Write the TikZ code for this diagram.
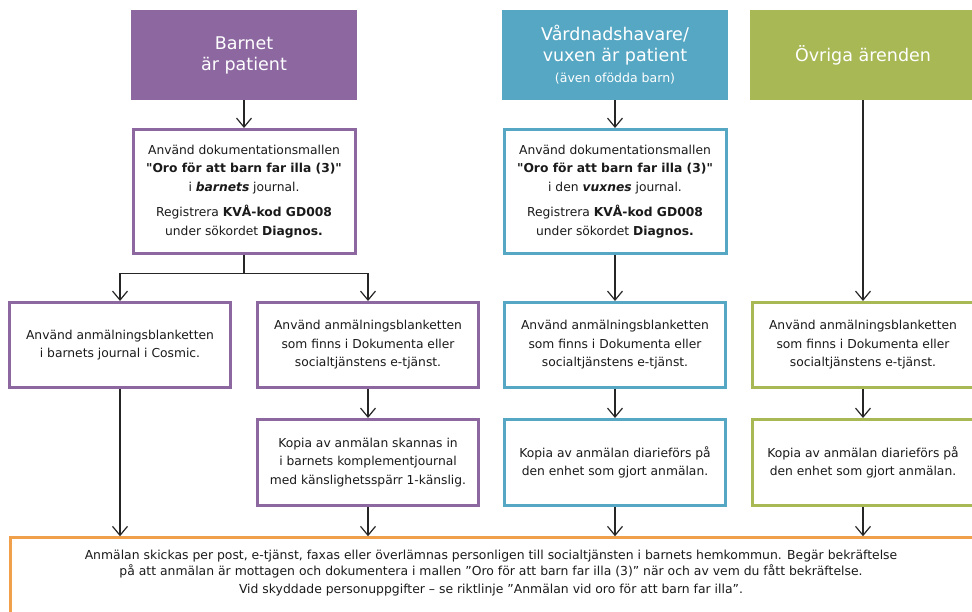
\documentclass[tikz,border=0pt]{standalone}
\usepackage{fontspec}
\setmainfont{DejaVu Sans}
\usetikzlibrary{arrows.meta, positioning}

\definecolor{lila}{HTML}{8C67A0}
\definecolor{bla}{HTML}{55A7C3}
\definecolor{gron}{HTML}{A7B855}
\definecolor{anmorange}{HTML}{F0A04B}
\definecolor{textgra}{HTML}{1A1A1A}

\begin{document}
\begin{tikzpicture}[x=1pt, y=-1pt,
		header/.style={fill=#1, text=white, minimum width=226, minimum height=90, inner sep=0pt, align=center, font=\fontsize{17.5}{21}\selectfont},
		ruta/.style={draw=#1, line width=3pt, fill=white, text=textgra, minimum width=221, minimum height=85, inner sep=0pt, align=center, font=\fontsize{12.3}{18.5}\selectfont},
		flow/.style={draw=black!85, line width=1.2pt, -{Straight Barb[length=9pt, width=15pt]}},
		link/.style={draw=black!85, line width=1.2pt}]
		\useasboundingbox (0,0) rectangle (972,612);
		\clip (0,0) rectangle (972,612);
		
		% Headers
		\node[header=lila] (hdrA) at (244,55) {Barnet\\är patient};
		\node[header=bla] (hdrB) at (615,55) {Vårdnadshavare/\\vuxen är patient\\{\fontsize{12.5}{15}\selectfont (även ofödda barn)}};
		\node[header=gron] (hdrC) at (863,55) {Övriga ärenden};
		
		% Documentation
		\node[ruta=lila, minimum width=222, minimum height=124] (docA) at (244,191.5) {Använd dokumentationsmallen\\\textbf{\textquotedbl Oro för att barn far illa (3)\textquotedbl}\\i \textbf{\textit{barnets}} journal.\\[7pt]Registrera \textbf{KVÅ-kod GD008}\\under sökordet \textbf{Diagnos.}};
		\node[ruta=bla, minimum width=222, minimum height=124] (docB) at (615,191.5) {Använd dokumentationsmallen\\\textbf{\textquotedbl Oro för att barn far illa (3)\textquotedbl}\\i den \textbf{\textit{vuxnes}} journal.\\[7pt]Registrera \textbf{KVÅ-kod GD008}\\under sökordet \textbf{Diagnos.}};
		
		% Forms
		\node[ruta=lila] (cosmic) at (120,345) {Använd anmälningsblanketten\\i barnets journal i Cosmic.};
		\node[ruta=lila] (formA) at (368,345) {Använd anmälningsblanketten\\som finns i Dokumenta eller\\socialtjänstens e-tjänst.};
		\node[ruta=bla] (formB) at (615,345) {Använd anmälningsblanketten\\som finns i Dokumenta eller\\socialtjänstens e-tjänst.};
		\node[ruta=gron] (formC) at (863,345) {Använd anmälningsblanketten\\som finns i Dokumenta eller\\socialtjänstens e-tjänst.};
		
		% Copies
		\node[ruta=lila, minimum height=86] (copyA) at (368,462.5) {Kopia av anmälan skannas in\\i barnets komplementjournal\\med känslighetsspärr 1-känslig.};
		\node[ruta=bla, minimum height=86] (copyB) at (615,462.5) {Kopia av anmälan diarieförs på\\den enhet som gjort anmälan.};
		\node[ruta=gron, minimum height=86] (copyC) at (863,462.5) {Kopia av anmälan diarieförs på\\den enhet som gjort anmälan.};
		
		% Report
		\node[draw=anmorange, line width=2.5pt, anchor=north west, minimum width=1000, minimum height=120] (report) at (9.25,536.25) {};
		\node[text=textgra, align=center, font=\fontsize{12.4}{16}\selectfont] (reporttxt) at (491,573) {Anmälan skickas per post, e-tjänst, faxas eller överlämnas personligen till socialtjänsten i barnets hemkommun. Begär bekräftelse\\på att anmälan är mottagen och dokumentera i mallen ”Oro för att barn far illa (3)” när och av vem du fått bekräftelse.\\[1.5pt]Vid skyddade personuppgifter – se riktlinje ”Anmälan vid oro för att barn far illa”.};
		
		% Connectors
		\draw[flow] (hdrA) -- (docA);
		\draw[flow] (hdrB) -- (docB);
		\draw[flow] (hdrC) -- (formC);
		\draw[link] (docA.south) -- ++(0,18.5) coordinate (splitA);
		\draw[flow] (splitA) -| (cosmic.north);
		\draw[flow] (splitA) -| (formA.north);
		\draw[flow] (docB) -- (formB);
		\draw[flow] (formA) -- (copyA);
		\draw[flow] (formB) -- (copyB);
		\draw[flow] (formC) -- (copyC);
		\draw[flow] (cosmic.south) -- (cosmic.south |- report.north);
		\draw[flow] (copyA.south) -- (copyA.south |- report.north);
		\draw[flow] (copyB.south) -- (copyB.south |- report.north);
		\draw[flow] (copyC.south) -- (copyC.south |- report.north);
	\end{tikzpicture}
\end{document}
